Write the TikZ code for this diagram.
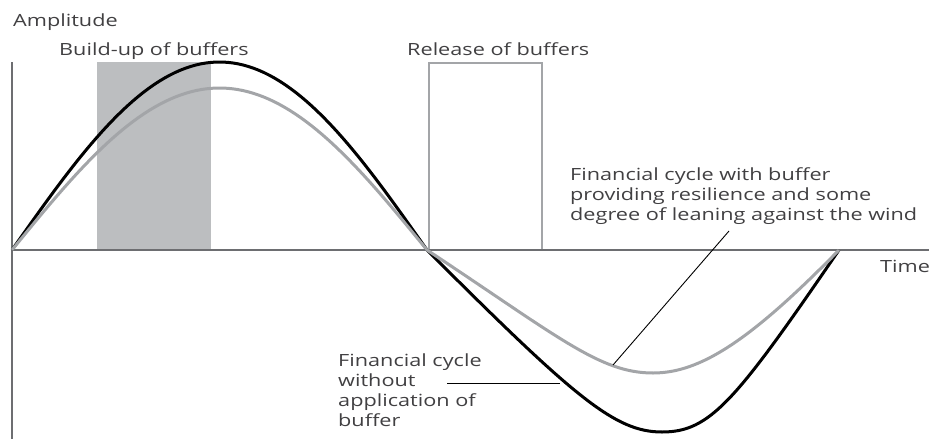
\documentclass[tikz,border=0pt]{standalone}
\usepackage{fontspec}
\setmainfont{Open Sans}[FakeStretch=1.29]
\usepackage{xcolor}
\usetikzlibrary{positioning}
\definecolor{axisgray}{HTML}{6D6E71}
\definecolor{cyclegray}{HTML}{A3A5A8}
\definecolor{buffergray}{HTML}{BCBEC0}
\definecolor{textgray}{HTML}{414042}
\tikzset{
  axis/.style={draw=axisgray, line width=1.4pt},
  cycle/.style={draw=black, line width=3pt, line join=round},
  bufcycle/.style={draw=cyclegray, line width=3pt, line join=round},
  relbox/.style={draw=cyclegray, line width=2.4pt},
  leader/.style={draw=black, line width=0.9pt},
  annot/.style={inner sep=0pt, anchor=base west, text=textgray, font=\fontsize{16.8}{19.8}\selectfont, align=left}
}

\begin{document}
\begin{tikzpicture}[x=1pt, y=-1pt]
  \useasboundingbox (0,0) rectangle (931,439);
  % buffer zones
  \fill[buffergray] (97,62) rectangle (211,250);
  \draw[relbox] (429,63) rectangle (542,250);
  % axes
  \draw[axis] (12,62) -- (12,439);
  \draw[axis] (12,250) -- (929,250);
  % cycles
  \draw[cycle] plot[domain=12:427, samples=80] (\x, {250-188*sin(0.43373*(\x-12))})
    .. controls (575,398) and (615,432) .. (662,432)
    .. controls (710,432) and (735,402) .. (839,250);
  \draw[bufcycle] plot[domain=12:427, samples=80] (\x, {250-162*sin(0.43373*(\x-12))})
    .. controls (560,338) and (600,373) .. (653,373)
    .. controls (700,373) and (750,341) .. (839,250);
  % labels (multi-line nodes sit on their last line)
  \node[annot] (amp) at (13,26) {Amplitude};
  \node[annot] (build) at (59,55) {Build-up of buffers};
  \node[annot] (release) at (407,55) {Release of buffers};
  \node[annot] (time) at (880,272) {Time};
  \node[annot] (withbuf) at (570,220) {Financial cycle with buffer\\providing resilience and some\\degree of leaning against the wind};
  \node[annot] (nobuf) at (338,426) {Financial cycle\\without\\application of\\buffer};
  % leaders
  \coordinate (withtip) at (729,231);
  \coordinate (withend) at (613,365);
  \coordinate (notip) at (447,383);
  \coordinate (noend) at (560,383);
  \draw[leader] (withtip) -- (withend);
  \draw[leader] (notip) -- (noend);
\end{tikzpicture}
\end{document}
